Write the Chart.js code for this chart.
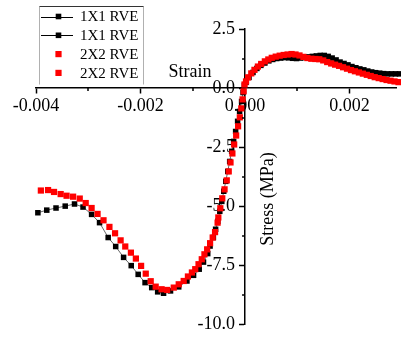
<!DOCTYPE html>
<html>
<head>
<meta charset="utf-8">
<script src="https://cdn.jsdelivr.net/npm/chart.js@4/dist/chart.umd.min.js"></script>
<style>
  html, body { margin: 0; padding: 0; background: #fff; }
  #wrap { width: 401px; height: 338px; }
</style>
</head>
<body>
<div id="wrap"><canvas id="c" width="401" height="338"></canvas></div>
<script>
// Axis ticks
const strainTicks = [-0.004, -0.002, 0, 0.002];
const strainMinor = [-0.003, -0.001, 0.001];
const stressTicks = [-10, -7.5, -5, -2.5, 0, 2.5];
const stressMinor = [-8.75, -6.25, -3.75, -1.25, 1.25];

const xTitle = 'Strain';
const yTitle = 'Stress (MPa)';
const labels = ['1X1 RVE', '1X1 RVE', '2X2 RVE', '2X2 RVE'];

// 1X1 RVE, compressive branch
const strain1x1Neg = [-0.003964, -0.003794, -0.003617, -0.003441, -0.003263, -0.0031, -0.002936, -0.002784, -0.002619, -0.002475,
  -0.002324, -0.002178, -0.002045, -0.001913, -0.001786, -0.001672, -0.001559, -0.001426, -0.001269, -0.001112,
  -0.000985, -0.000877, -0.000795, -0.000714, -0.000669, -0.000606, -0.000563, -0.000521, -0.000483, -0.000445,
  -0.000407, -0.000369, -0.000331, -0.000294, -0.000256, -0.000218, -0.00018, -0.000142, -0.000104, -0.000066,
  -0.000038, -0.000013];
const stress1x1Neg = [-5.28, -5.17, -5.08, -5.00, -4.91, -5.04, -5.35, -5.70, -6.33, -6.71,
  -7.17, -7.52, -7.89, -8.24, -8.45, -8.63, -8.69, -8.59, -8.42, -8.17,
  -7.93, -7.67, -7.37, -7.01, -6.69, -6.33, -5.98, -5.64, -5.22, -4.80,
  -4.37, -3.95, -3.53, -3.11, -2.68, -2.26, -1.84, -1.41, -0.99, -0.57,
  -0.19, 0.11];

// 1X1 RVE, tensile branch
const strain1x1Pos = [0.000019, 0.000076, 0.000152, 0.000227, 0.000303, 0.000379, 0.000455, 0.00053, 0.000606, 0.000682,
  0.000758, 0.000833, 0.000909, 0.000985, 0.001061, 0.001136, 0.001212, 0.001288, 0.001364, 0.001439,
  0.001515, 0.001591, 0.001667, 0.001742, 0.001818, 0.001894, 0.00197, 0.002045, 0.002121, 0.002197,
  0.002273, 0.002348, 0.002424, 0.0025, 0.002576, 0.002652, 0.002727, 0.002803, 0.002879, 0.002955];
const stress1x1Pos = [0.24, 0.45, 0.66, 0.83, 0.96, 1.06, 1.15, 1.21, 1.25, 1.27,
  1.29, 1.28, 1.26, 1.25, 1.27, 1.29, 1.32, 1.34, 1.36, 1.38,
  1.38, 1.34, 1.27, 1.19, 1.10, 1.04, 0.98, 0.91, 0.86, 0.81,
  0.77, 0.72, 0.68, 0.65, 0.63, 0.61, 0.60, 0.60, 0.60, 0.60];

// 2X2 RVE, compressive branch
const strain2x2Neg = [-0.003907, -0.003769, -0.003655, -0.003528, -0.003415, -0.00329, -0.003163, -0.003049, -0.002936, -0.002822,
  -0.002708, -0.002595, -0.002487, -0.002381, -0.002292, -0.002184, -0.002089, -0.001989, -0.0019, -0.001805,
  -0.00171, -0.001597, -0.00149, -0.001364, -0.001269, -0.001174, -0.001093, -0.001017, -0.000953, -0.00089,
  -0.000828, -0.000777, -0.000725, -0.000669, -0.000619, -0.000574, -0.000525, -0.000511, -0.000473, -0.000436,
  -0.000392, -0.00035, -0.000312, -0.000278, -0.000242, -0.000208, -0.00017, -0.000133, -0.0001, -0.000072,
  -0.000047, -0.000027, -0.00001];
const stress2x2Neg = [-4.34, -4.32, -4.40, -4.49, -4.56, -4.60, -4.68, -4.87, -5.08, -5.33,
  -5.60, -5.88, -6.15, -6.45, -6.71, -6.97, -7.22, -7.53, -7.86, -8.18,
  -8.41, -8.52, -8.55, -8.45, -8.31, -8.17, -7.98, -7.81, -7.67, -7.46,
  -7.25, -7.04, -6.83, -6.57, -6.33, -6.10, -5.70, -5.48, -5.09, -4.67,
  -4.29, -3.91, -3.53, -3.15, -2.77, -2.39, -2.01, -1.62, -1.24, -0.86,
  -0.48, -0.14, 0.15];

// 2X2 RVE, tensile branch
const strain2x2Pos = [0.000019, 0.000057, 0.000119, 0.00018, 0.000246, 0.000309, 0.000379, 0.000445, 0.000511, 0.000587,
  0.000663, 0.000739, 0.000814, 0.00089, 0.000966, 0.001042, 0.001117, 0.001193,
  0.001269, 0.001345, 0.00142, 0.001496, 0.001572, 0.001648, 0.001723, 0.001799, 0.001875, 0.001951,
  0.002027, 0.002102, 0.002178, 0.002254, 0.00233, 0.002405, 0.002481, 0.002557, 0.002633, 0.002708,
  0.002784, 0.00286, 0.002936];
const stress2x2Pos = [0.28, 0.45, 0.62, 0.77, 0.91, 1.02, 1.13, 1.21, 1.28, 1.33,
  1.37, 1.40, 1.42, 1.44, 1.42, 1.38, 1.32, 1.27,
  1.24, 1.23, 1.22, 1.17, 1.10, 1.04, 0.99, 0.94, 0.88, 0.82,
  0.76, 0.71, 0.66, 0.61, 0.56, 0.51, 0.46, 0.42, 0.38, 0.34,
  0.31, 0.28, 0.25];

const SERIF = "'Times New Roman', 'Liberation Serif', serif";
const pairs = (xs, ys) => xs.map((x, i) => ({ x, y: ys[i] }));

function blackSeries(label, xs, ys) {
  return {
    label, data: pairs(xs, ys), order: 1,
    showLine: true, borderColor: '#000', borderWidth: 0.6,
    pointStyle: 'rect', pointRadius: 3.9, pointBorderWidth: 0,
    pointBackgroundColor: '#000', clip: false
  };
}
function redSeries(label, xs, ys) {
  return {
    label, data: pairs(xs, ys), order: 0,
    showLine: false, borderColor: '#ff0000', borderWidth: 0,
    pointStyle: 'rect', pointRadius: 4.4, pointBorderWidth: 0,
    pointBackgroundColor: '#ff0000', clip: false
  };
}

// The stress axis crosses the strain axis at zero; push its labels
// out to the left of the tick marks.
const yLabelGap = {
  id: 'yLabelGap',
  beforeDraw(chart) {
    const items = chart.scales.y.getLabelItems();
    items.forEach(it => {
      if (!it._gap) {
        it.options.translation[0] -= 10;
        it._gap = true;
      }
    });
  }
};

// Short minor ticks, axis titles and the boxed legend
const decorations = {
  id: 'decorations',
  afterDraw(chart) {
    const { ctx } = chart;
    const xs = chart.scales.x, ys = chart.scales.y;
    const x0 = xs.getPixelForValue(0), y0 = ys.getPixelForValue(0);
    ctx.save();
    ctx.strokeStyle = '#000';
    ctx.lineWidth = 1.5;
    ctx.beginPath();
    strainMinor.forEach(v => {
      const p = Math.round(xs.getPixelForValue(v));
      ctx.moveTo(p, y0); ctx.lineTo(p, y0 + 3);
    });
    stressMinor.forEach(v => {
      const p = Math.round(ys.getPixelForValue(v));
      ctx.moveTo(x0, p); ctx.lineTo(x0 - 3, p);
    });
    ctx.stroke();

    // axis titles
    ctx.fillStyle = '#000';
    ctx.font = '18px ' + SERIF;
    ctx.textAlign = 'center';
    ctx.textBaseline = 'middle';
    ctx.fillText(xTitle, 190, 72);
    ctx.save();
    ctx.translate(268, 199);
    ctx.rotate(-Math.PI / 2);
    ctx.fillText(yTitle, 0, 0);
    ctx.restore();

    // legend box
    const bx = 39.5, by = 6.5, bw = 104, bh = 78;
    ctx.fillStyle = '#fff';
    ctx.fillRect(bx, by, bw, bh);
    ctx.lineWidth = 1;
    ctx.strokeStyle = '#b0b0b0';
    ctx.beginPath();
    ctx.moveTo(bx, by + bh); ctx.lineTo(bx, by);
    ctx.moveTo(bx + bw, by); ctx.lineTo(bx + bw, by + bh);
    ctx.stroke();
    ctx.strokeStyle = '#333';
    ctx.beginPath();
    ctx.moveTo(bx, by); ctx.lineTo(bx + bw, by);
    ctx.stroke();

    ctx.font = '15px ' + SERIF;
    ctx.textAlign = 'left';
    chart.data.datasets.forEach((ds, i) => {
      const cy = 16.5 + i * 18.8;
      const isLine = ds.showLine;
      if (isLine) {
        ctx.strokeStyle = ds.borderColor;
        ctx.lineWidth = 1;
        ctx.beginPath();
        ctx.moveTo(41, Math.round(cy) + 0.5); ctx.lineTo(73, Math.round(cy) + 0.5);
        ctx.stroke();
      }
      const s = isLine ? 5.6 : 6.2;
      ctx.fillStyle = ds.pointBackgroundColor;
      ctx.fillRect(58.5 - s / 2, cy - s / 2, s, s);
      ctx.fillStyle = '#000';
      ctx.fillText(ds.label, 80, cy + 1);
    });
    ctx.restore();
  }
};

new Chart(document.getElementById('c'), {
  type: 'scatter',
  data: {
    datasets: [
      blackSeries(labels[0], strain1x1Neg, stress1x1Neg),
      blackSeries(labels[1], strain1x1Pos, stress1x1Pos),
      redSeries(labels[2], strain2x2Neg, stress2x2Neg),
      redSeries(labels[3], strain2x2Pos, stress2x2Pos)
    ]
  },
  options: {
    responsive: false,
    animation: false,
    devicePixelRatio: 1,
    layout: { padding: { left: 36, top: 29, right: 0, bottom: 13 } },
    plugins: { legend: { display: false }, tooltip: { enabled: false } },
    scales: {
      x: {
        type: 'linear', min: -0.004, max: 0.0029,
        position: { y: 0 },
        afterFit: s => { s.height = 0; },
        afterBuildTicks: s => { s.ticks = strainTicks.map(v => ({ value: v })); },
        grid: { display: true, drawOnChartArea: false, drawTicks: true, tickLength: 5, tickColor: '#000', tickWidth: 1.5 },
        border: { display: true, color: '#000', width: 1.5 },
        ticks: { color: '#000', font: { family: SERIF, size: 18 }, padding: 2, maxRotation: 0, autoSkip: false,
                 callback: v => Number(v).toFixed(3) }
      },
      y: {
        type: 'linear', min: -10, max: 2.5,
        position: { x: 0 },
        afterFit: s => { s.width = 0; },
        afterBuildTicks: s => { s.ticks = stressTicks.map(v => ({ value: v })); },
        grid: { display: true, drawOnChartArea: false, drawTicks: true, tickLength: 5, tickColor: '#000', tickWidth: 1.5 },
        border: { display: true, color: '#000', width: 1.5 },
        ticks: { color: '#000', font: { family: SERIF, size: 18 }, padding: 3, autoSkip: false,
                 callback: v => Number(v).toFixed(1) }
      }
    }
  },
  plugins: [yLabelGap, decorations]
});
</script>
</body>
</html>
